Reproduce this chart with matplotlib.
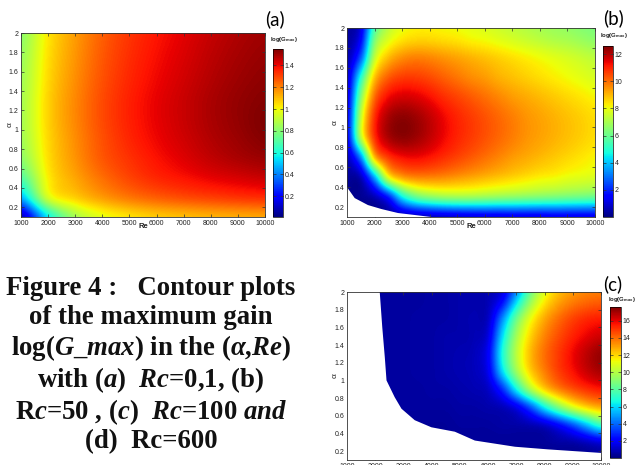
import numpy as np
import matplotlib
matplotlib.use("Agg")
import matplotlib.pyplot as plt
from matplotlib.ticker import FuncFormatter

plt.rcParams['font.family'] = ['Liberation Sans', 'DejaVu Sans']
plt.rcParams['mathtext.fontset'] = 'custom'
plt.rcParams['mathtext.default'] = 'regular'
plt.rcParams['mathtext.it'] = 'Liberation Serif:italic:bold'
plt.rcParams['mathtext.rm'] = 'Liberation Serif:bold'
plt.rcParams['mathtext.bf'] = 'Liberation Serif:bold'

# ---------------- data ----------------
re_coarse = [1000, 2000, 3000, 4000, 5000, 6000, 7000, 8000, 9000, 10000]
re_fine = [1000, 1500, 2000, 2500, 3000, 3500, 4000, 4500, 5000, 5500,
           6000, 6500, 7000, 7500, 8000, 8500, 9000, 9500, 10000]
alpha_values = [0.1, 0.3, 0.5, 0.7, 0.9, 1.1, 1.3, 1.5, 1.7, 1.9, 2.1]

# (a) Rc = 0.1 : log(Gmax), rows = alpha, cols = re_coarse
gmax_a = [
    [0.03, 0.55, 0.85, 0.97, 1.03, 1.07, 1.09, 1.11, 1.12, 1.13],
    [0.45, 0.98, 1.08, 1.16, 1.22, 1.26, 1.29, 1.31, 1.33, 1.34],
    [0.68, 1.03, 1.14, 1.23, 1.30, 1.35, 1.38, 1.41, 1.43, 1.45],
    [0.80, 1.05, 1.17, 1.27, 1.33, 1.38, 1.42, 1.46, 1.49, 1.51],
    [0.84, 1.06, 1.18, 1.28, 1.35, 1.40, 1.44, 1.48, 1.51, 1.54],
    [0.85, 1.07, 1.19, 1.29, 1.36, 1.41, 1.45, 1.49, 1.52, 1.55],
    [0.85, 1.07, 1.19, 1.29, 1.36, 1.41, 1.45, 1.49, 1.52, 1.54],
    [0.84, 1.06, 1.18, 1.28, 1.35, 1.40, 1.44, 1.48, 1.51, 1.53],
    [0.83, 1.05, 1.17, 1.27, 1.34, 1.39, 1.43, 1.47, 1.50, 1.52],
    [0.81, 1.04, 1.16, 1.26, 1.33, 1.38, 1.42, 1.46, 1.49, 1.51],
    [0.79, 1.03, 1.15, 1.25, 1.32, 1.37, 1.41, 1.45, 1.48, 1.50],
]

# (b) Rc = 50 : rows = alpha, cols = re_fine
gmax_b = [
    [0.2, 0.2, 0.2, 0.2, 0.2, 0.3, 0.4, 0.5, 0.6, 0.7, 0.8, 0.8, 0.9, 0.9, 0.9, 1.0, 1.0, 1.0, 1.0],
    [0.2, 0.2, 0.4, 1.5, 4.5, 6.0, 6.6, 6.9, 7.0, 7.0, 6.9, 6.8, 6.7, 6.6, 6.5, 6.4, 6.3, 6.2, 6.1],
    [0.3, 0.4, 3.5, 8.3, 9.5, 9.8, 9.8, 9.7, 9.5, 9.3, 9.1, 8.9, 8.7, 8.5, 8.3, 8.2, 8.0, 7.9, 7.8],
    [0.5, 3.0, 9.3, 10.8, 11.3, 11.4, 11.2, 10.9, 10.6, 10.3, 10.0, 9.7, 9.4, 9.2, 9.0, 8.8, 8.6, 8.4, 8.2],
    [1.0, 7.5, 11.0, 12.2, 12.5, 12.3, 11.9, 11.4, 11.0, 10.7, 10.4, 10.1, 9.8, 9.5, 9.3, 9.1, 8.9, 8.7, 8.5],
    [1.0, 7.5, 11.0, 12.2, 12.5, 12.3, 11.9, 11.4, 11.0, 10.7, 10.4, 10.1, 9.8, 9.5, 9.3, 9.1, 8.9, 8.7, 8.5],
    [0.8, 6.5, 10.2, 11.4, 11.7, 11.6, 11.3, 10.9, 10.6, 10.3, 10.0, 9.7, 9.4, 9.2, 9.0, 8.8, 8.6, 8.4, 8.2],
    [0.6, 5.0, 9.0, 10.3, 10.7, 10.7, 10.5, 10.2, 9.9, 9.6, 9.4, 9.1, 8.9, 8.7, 8.5, 8.3, 8.1, 7.9, 7.7],
    [0.4, 2.5, 7.5, 9.0, 9.6, 9.8, 9.7, 9.5, 9.3, 9.1, 8.9, 8.7, 8.5, 8.3, 8.1, 7.9, 7.7, 7.5, 7.3],
    [0.3, 1.2, 6.3, 7.7, 8.3, 8.5, 8.5, 8.4, 8.3, 8.1, 8.0, 7.8, 7.6, 7.4, 7.2, 7.0, 6.9, 6.7, 6.5],
    [0.3, 0.8, 5.0, 7.0, 7.8, 8.1, 8.1, 8.0, 7.9, 7.8, 7.6, 7.4, 7.2, 7.0, 6.8, 6.7, 6.5, 6.3, 6.2],
]
b_edge_re = [1000, 1280, 1760, 2250, 2850, 3460, 4060]
b_edge_alpha = [0.40, 0.29, 0.22, 0.18, 0.14, 0.12, 0.10]

# (c) Rc = 100 : rows = alpha, cols = re_fine
gmax_c = [
    [0.4, 0.4, 0.4, 0.4, 0.4, 0.4, 0.4, 0.4, 0.4, 0.4, 0.4, 0.4, 0.4, 0.4, 0.4, 0.4, 0.4, 0.4, 0.5],
    [0.4, 0.4, 0.4, 0.4, 0.4, 0.4, 0.4, 0.4, 0.4, 0.4, 0.4, 0.4, 0.4, 0.4, 0.4, 0.5, 0.5, 0.8, 1.2],
    [0.4, 0.4, 0.4, 0.4, 0.4, 0.4, 0.4, 0.4, 0.5, 0.5, 0.5, 0.6, 0.6, 0.7, 1.0, 2.0, 3.5, 5.5, 7.5],
    [0.4, 0.4, 0.4, 0.4, 0.5, 0.5, 0.5, 0.5, 0.6, 0.6, 0.7, 0.8, 1.5, 3.5, 6.5, 9.0, 11.0, 12.3, 13.0],
    [0.4, 0.4, 0.4, 0.5, 0.5, 0.5, 0.6, 0.6, 0.7, 0.8, 1.0, 2.8, 6.5, 10.0, 12.3, 13.7, 14.6, 15.2, 15.6],
    [0.4, 0.4, 0.5, 0.5, 0.5, 0.6, 0.6, 0.7, 0.8, 0.9, 1.6, 6.0, 9.6, 12.2, 13.7, 14.9, 15.7, 16.5, 17.0],
    [0.4, 0.4, 0.5, 0.5, 0.5, 0.6, 0.6, 0.7, 0.8, 0.9, 1.8, 6.8, 10.2, 12.6, 14.0, 15.0, 15.9, 16.7, 17.3],
    [0.4, 0.4, 0.5, 0.5, 0.5, 0.6, 0.6, 0.7, 0.7, 0.8, 1.3, 6.0, 9.7, 12.1, 13.6, 14.6, 15.4, 16.0, 16.4],
    [0.4, 0.4, 0.5, 0.5, 0.5, 0.6, 0.6, 0.6, 0.7, 0.8, 0.9, 4.5, 8.5, 11.2, 12.9, 14.0, 14.8, 15.3, 15.5],
    [0.4, 0.4, 0.5, 0.5, 0.5, 0.5, 0.6, 0.6, 0.7, 0.7, 0.8, 2.0, 5.8, 9.3, 11.6, 12.9, 13.6, 14.0, 14.2],
    [0.4, 0.4, 0.5, 0.5, 0.5, 0.5, 0.6, 0.6, 0.7, 0.7, 0.8, 1.0, 3.5, 7.8, 10.5, 12.1, 12.8, 13.2, 13.3],
]
c_edge_re = [2160, 2250, 2340, 2400, 2690, 2930, 3400, 3990, 4820, 5530, 6950, 8130, 10000]
c_edge_alpha = [2.00, 1.60, 1.26, 1.00, 0.81, 0.68, 0.55, 0.47, 0.42, 0.32, 0.25, 0.22, 0.18]

x_ticks = [1000, 2000, 3000, 4000, 5000, 6000, 7000, 8000, 9000, 10000]
y_ticks = [0.2, 0.4, 0.6, 0.8, 1.0, 1.2, 1.4, 1.6, 1.8, 2.0]
cbar_ticks_a = [0.2, 0.4, 0.6, 0.8, 1.0, 1.2, 1.4]
cbar_ticks_b = [2, 4, 6, 8, 10, 12]
cbar_ticks_c = [2, 4, 6, 8, 10, 12, 14, 16]

W, H = 635, 465
fig = plt.figure(figsize=(W / 100, H / 100), dpi=100)


def box(x0, y0, x1, y1):
    return [x0 / W, 1 - y1 / H, (x1 - x0) / W, (y1 - y0) / H]


fmt = FuncFormatter(lambda v, p: f"{v:g}")


def panel(axrect, caxrect, re_list, Z, vmin, vmax, cticks, tag, tagpos, labpos, ylab_off):
    ax = fig.add_axes(box(*axrect))
    cax = fig.add_axes(box(*caxrect))
    Z = np.array(Z, dtype=float)
    dre = re_list[1] - re_list[0]
    da = alpha_values[1] - alpha_values[0]
    ext = [re_list[0] - dre / 2, re_list[-1] + dre / 2,
           alpha_values[0] - da / 2, alpha_values[-1] + da / 2]
    im = ax.imshow(Z, origin='lower', extent=ext, aspect='auto', cmap='jet',
                   vmin=vmin, vmax=vmax, interpolation='mitchell')
    ax.set_xlim(1000, 10000)
    ax.set_ylim(0.1, 2.0)
    ax.set_xticks(x_ticks)
    ax.set_yticks(y_ticks)
    ax.yaxis.set_major_formatter(fmt)
    ax.tick_params(direction='in', length=2, width=0.5, labelsize=5, pad=2,
                   top=True, right=True, colors='#333333', labelcolor='#222222')
    for s in ax.spines.values():
        s.set_linewidth(0.6)
        s.set_color('#333333')
    ax.text(0.5, -0.05, 'Re', transform=ax.transAxes, ha='center', va='center',
            fontsize=5.5, fontweight='bold', color='#222222')
    ax.text(ylab_off, 0.5, 'α', transform=ax.transAxes, ha='center', va='center',
            fontsize=6, rotation=90, color='#222222')
    cb = fig.colorbar(im, cax=cax, ticks=cticks, format=fmt)
    cb.outline.set_linewidth(0.5)
    cax.tick_params(direction='in', length=2, width=0.5, labelsize=5, pad=1,
                    left=True, right=True, colors='#333333', labelcolor='#222222')
    fig.text(tagpos[0] / W, 1 - tagpos[1] / H, tag, ha='center', va='center',
             fontsize=13.5, family='Lato')
    fig.text(labpos[0] / W, 1 - labpos[1] / H, r'log(G$_{max}$)', ha='center',
             va='center', fontsize=4.3, fontweight='bold', color='#222222')
    return ax


ax_a = panel((21, 33, 265, 217), (273, 49, 283, 217), re_coarse, gmax_a, 0.01, 1.55,
             cbar_ticks_a, '(a)', (275, 19), (284, 40), -0.045)
ax_b = panel((347, 28, 595, 217), (603, 46, 613, 217), re_fine, gmax_b, 0.0, 12.6,
             cbar_ticks_b, '(b)', (613, 18), (614, 35), -0.048)
ax_c = panel((347, 292, 601, 460), (610, 307, 621, 458), re_fine, gmax_c, 0.0, 17.6,
             cbar_ticks_c, '(c)', (613, 284), (622, 300), -0.048)

# white (undefined) regions
ax_b.fill([re_fine[0]] + b_edge_re + [re_fine[0]],
          [b_edge_alpha[0]] + b_edge_alpha + [0.0], color='white', lw=0, zorder=2)
ax_c.fill([re_fine[0]] + c_edge_re + [10100, 10100, re_fine[0]],
          [2.1] + c_edge_alpha + [c_edge_alpha[-1], 0.0, 0.0],
          color='white', lw=0, zorder=2)

# caption
cap_lines = [
    r"Figure 4 :   Contour plots",
    r"of the maximum gain",
    r"log($\mathit{G\_max}$) in the ($\mathit{\alpha}$,$\mathit{Re}$)",
    r"with ($\mathit{a}$)  $\mathit{Rc}$=0,1, (b)",
    r"R$\mathit{c}$=50 , ($\mathit{c}$)  $\mathit{Rc}$=100 $\mathit{and}$",
    r"(d)  Rc=600",
]
cap_y = [288, 318, 348, 380, 412, 442]
for txt, yy in zip(cap_lines, cap_y):
    fig.text(151 / W, 1 - yy / H, txt, ha='center', va='center', fontsize=19.3,
             fontweight='bold', family='Liberation Serif', color='#111111')

fig.savefig('out.png', dpi=100)
